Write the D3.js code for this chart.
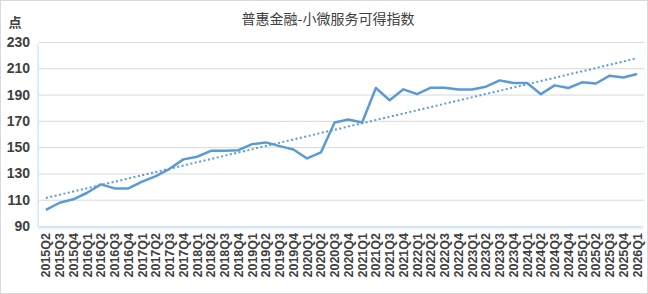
<!DOCTYPE html>
<html>
<head>
<meta charset="utf-8">
<script src="https://cdn.jsdelivr.net/npm/d3@7"></script>
<style>
  html, body { margin: 0; padding: 0; background: #fff; }
  svg { display: block; }
</style>
</head>
<body>
<svg id="chart"></svg>
<script>
// quarters on the x axis
const quarters = [
  "2015Q2", "2015Q3", "2015Q4",
  "2016Q1", "2016Q2", "2016Q3", "2016Q4",
  "2017Q1", "2017Q2", "2017Q3", "2017Q4",
  "2018Q1", "2018Q2", "2018Q3", "2018Q4",
  "2019Q1", "2019Q2", "2019Q3", "2019Q4",
  "2020Q1", "2020Q2", "2020Q3", "2020Q4",
  "2021Q1", "2021Q2", "2021Q3", "2021Q4",
  "2022Q1", "2022Q2", "2022Q3", "2022Q4",
  "2023Q1", "2023Q2", "2023Q3", "2023Q4",
  "2024Q1", "2024Q2", "2024Q3", "2024Q4",
  "2025Q1", "2025Q2", "2025Q3", "2025Q4",
  "2026Q1",
];

// index values
const indexValues = [
  102.2, 107.7, 110.3,
  115.3, 121.7, 118.6, 118.6,
  123.7, 128.0, 133.5, 140.7,
  142.7, 147.2, 147.2, 147.7,
  152.3, 153.6, 150.8, 148.2,
  141.4, 146.0, 168.8, 171.0,
  168.8, 195.0, 185.7, 194.0,
  190.3, 195.2, 195.2, 193.8,
  193.8, 196.0, 200.8, 198.8,
  198.8, 190.3, 197.0, 195.0,
  199.3, 198.4, 204.4, 203.0,
  205.6,
];

const yTicks = [90, 110, 130, 150, 170, 190, 210, 230];

const titleText = "普惠金融-小微服务可得指数";
const unitText = "点";

function drawChart() {
  const W = 648, H = 294;
  const margin = { top: 42, right: 4, bottom: 68, left: 39 };
  const innerW = W - margin.left - margin.right;
  const innerH = H - margin.top - margin.bottom;

  const svg = d3.select("#chart").attr("width", W).attr("height", H);

  // outer frame
  svg.append("rect")
    .attr("x", 0.5).attr("y", 0.5)
    .attr("width", W - 1).attr("height", H - 1)
    .attr("fill", "#fff")
    .attr("stroke", "#d9d9d9");

  const defs = svg.append("defs");
  const filter = defs.append("filter").attr("id", "shadow")
    .attr("x", "-5%").attr("y", "-5%").attr("width", "110%").attr("height", "115%");
  filter.append("feDropShadow")
    .attr("dx", -1).attr("dy", 2).attr("stdDeviation", 1.5)
    .attr("flood-color", "#9dc3e6").attr("flood-opacity", 0.6);

  const g = svg.append("g")
    .attr("transform", "translate(" + margin.left + "," + margin.top + ")");

  // plot area with faint shadow
  g.append("rect")
    .attr("width", innerW).attr("height", innerH)
    .attr("fill", "#fff")
    .attr("filter", "url(#shadow)");

  const x = d3.scaleBand().domain(quarters).range([0, innerW]);
  const y = d3.scaleLinear().domain([90, 230]).range([innerH, 0]);
  const cx = (q) => x(q) + x.bandwidth() / 2;

  // gridlines
  g.selectAll(".grid")
    .data(yTicks.filter((t) => t !== 90))
    .enter()
    .append("line")
    .attr("x1", 0).attr("x2", innerW)
    .attr("y1", (d) => y(d) + 0.5).attr("y2", (d) => y(d) + 0.5)
    .attr("stroke", "#d9d9d9").attr("stroke-width", 1);

  // y axis labels
  const yAxis = d3.axisLeft(y).tickValues(yTicks).tickSize(0).tickPadding(9);
  const yG = g.append("g").call(yAxis);
  yG.select(".domain").remove();
  yG.selectAll("text")
    .attr("fill", "#404040")
    .style("font-family", "'Liberation Sans', Arial, sans-serif")
    .style("font-size", "14px")
    .style("font-weight", "bold");

  // x axis labels (rotated)
  const xAxis = d3.axisBottom(x).tickSize(0).tickPadding(0);
  const xG = g.append("g").attr("transform", "translate(0," + innerH + ")").call(xAxis);
  xG.select(".domain").remove();
  xG.selectAll("text")
    .attr("transform", "rotate(-90)")
    .attr("x", -7).attr("y", 0).attr("dy", "0.35em")
    .attr("text-anchor", "end")
    .attr("fill", "#404040")
    .style("font-family", "'Liberation Sans', Arial, sans-serif")
    .style("font-size", "12.5px")
    .style("font-weight", "bold");

  // linear trendline (least squares over index position)
  const n = indexValues.length;
  const xs = d3.range(n);
  const mx = d3.mean(xs), my = d3.mean(indexValues);
  const slope = d3.sum(xs, (i) => (i - mx) * (indexValues[i] - my)) /
    d3.sum(xs, (i) => (i - mx) * (i - mx));
  const intercept = my - slope * mx;

  g.append("line")
    .attr("x1", cx(quarters[0])).attr("y1", y(intercept))
    .attr("x2", cx(quarters[n - 1])).attr("y2", y(intercept + slope * (n - 1)))
    .attr("stroke", "#5b9bd5")
    .attr("stroke-width", 2)
    .attr("stroke-dasharray", "2,2.5");

  // main series
  const line = d3.line()
    .x((d, i) => cx(quarters[i]))
    .y((d) => y(d));

  g.append("path")
    .datum(indexValues)
    .attr("d", line)
    .attr("fill", "none")
    .attr("stroke", "#5b9bd5")
    .attr("stroke-width", 2.5)
    .attr("stroke-linejoin", "round");

  // title and unit
  svg.append("text")
    .attr("x", W / 2 + 4).attr("y", 24)
    .attr("text-anchor", "middle")
    .attr("fill", "#404040")
    .style("font-family", "'Noto Sans CJK SC', sans-serif")
    .style("font-size", "14px")
    .text(titleText);

  svg.append("text")
    .attr("x", 15).attr("y", 27)
    .attr("text-anchor", "middle")
    .attr("fill", "#404040")
    .style("font-family", "'Noto Sans CJK SC', sans-serif")
    .style("font-size", "13px")
    .style("font-weight", "bold")
    .text(unitText);
}

drawChart();
</script>
</body>
</html>
